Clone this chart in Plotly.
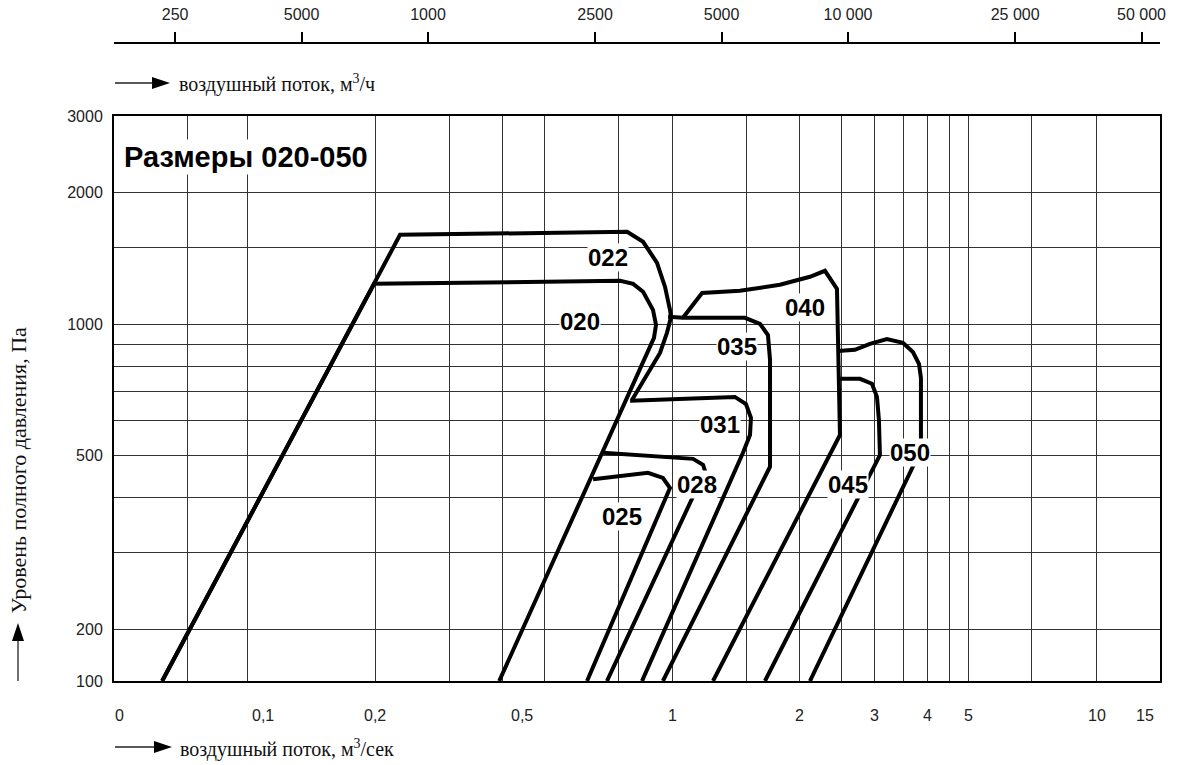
import numpy as np
import plotly.graph_objects as go

# ---------------- data (flow m3/s, total pressure Pa) -------------
flow_020 = [0.0631, 0.199, 0.755, 0.810, 0.855, 0.902, 0.917, 0.907, 0.392]
pres_020 = [100, 1237, 1257, 1237, 1186, 1078, 996, 930, 100]

flow_022 = [0.0631, 0.229, 0.784, 0.855, 0.922, 0.963, 0.989, 0.995, 0.973, 0.937, 0.805]
pres_022 = [100, 1602, 1628, 1544, 1382, 1217, 1078, 1039, 955, 859, 670]

flow_025 = [0.652, 0.878, 0.952, 0.989, 0.631]
pres_025 = [441, 456, 444, 421, 100]

flow_028 = [0.688, 0.888, 1.121, 1.183, 1.196, 0.703]
pres_028 = [507, 499, 491, 476, 461, 100]

flow_031 = [0.797, 1.164, 1.406, 1.493, 1.534, 1.526, 1.469, 0.850]
pres_031 = [667, 677, 681, 656, 610, 557, 507, 100]

flow_035 = [0.979, 1.061, 1.485, 1.611, 1.682, 1.701, 1.701, 0.952]
pres_035 = [1039, 1034, 1034, 1001, 944, 828, 471, 100]

flow_040 = [1.061, 1.177, 1.445, 1.795, 2.112, 2.291, 2.445, 2.485, 1.249]
pres_040 = [1034, 1179, 1192, 1231, 1284, 1325, 1205, 557, 100]

flow_045 = [2.459, 2.770, 2.955, 3.037, 3.069, 3.086, 1.655]
pres_045 = [749, 749, 730, 681, 603, 501, 100]

flow_050 = [2.459, 2.695, 2.923, 3.205, 3.496, 3.690, 3.813, 3.854, 3.854, 2.112]
pres_050 = [868, 873, 901, 924, 906, 863, 811, 753, 515, 100]

size_labels = ["020", "022", "025", "028", "031", "035", "040", "045", "050"]
label_flow = [0.607, 0.707, 0.763, 1.145, 1.297, 1.422, 2.055, 2.595, 3.631]
label_pres = [1012, 1419, 363, 430, 590, 887, 1089, 430, 507]

# axis grid / tick labels (label anchors as printed on the original scale)
x_grid = [0.0722, 0.1, 0.2, 0.3, 0.4, 0.5, 0.75, 1, 1.5, 2, 2.5, 3, 3.5, 4, 4.5, 5, 7, 10]
x_label_at = [0.0502, 0.109, 0.2, 0.444, 1, 2, 3, 4, 5, 10, 12.97]
x_label_text = ["0", "0,1", "0,2", "0,5", "1", "2", "3", "4", "5", "10", "15"]
y_grid = [100, 200, 300, 400, 500, 600, 700, 800, 900, 1000, 1500, 2000, 3000]
y_tick_vals = [100, 200, 500, 1000, 2000, 3000]
top_tick_vals = [250, 500, 1000, 2500, 5000, 10000, 25000, 50000]
top_tick_text = ["250", "5000", "1000", "2500", "5000", "10 000", "25 000", "50 000"]

# ---------------- scales ----------------
X_MIN, X_MAX = 0.0486, 14.08
COMP = 0.396  # compression of the 100-200 Pa band


def ty(p):
    p = np.asarray(p, dtype=float)
    l = np.log10(p)
    base = np.log10(200.0)
    return np.where(p >= 200, l, base - (base - l) * COMP)


W, H = 1178, 765
ML, MR, MT, MB = 114, 18, 43, 84
PW, PH = W - ML - MR, H - MT - MB
Y_DOMAIN_TOP = (681 - 116) / PH


def px(xp):
    return (xp - ML) / PW


def py(yp):
    return (H - MB - yp) / PH


fig = go.Figure()
curves = [
    (flow_020, pres_020), (flow_022, pres_022), (flow_025, pres_025),
    (flow_028, pres_028), (flow_031, pres_031), (flow_035, pres_035),
    (flow_040, pres_040), (flow_045, pres_045), (flow_050, pres_050),
]
for name, (fx, fp) in zip(size_labels, curves):
    fig.add_trace(go.Scatter(
        x=fx, y=ty(fp), mode="lines", name=name,
        line=dict(color="black", width=4), hoverinfo="skip",
        showlegend=False))

# invisible trace to activate the top axis
fig.add_trace(go.Scatter(x=[1000], y=[float(ty(1000))], xaxis="x2", yaxis="y",
                         mode="markers", marker=dict(opacity=0),
                         hoverinfo="skip", showlegend=False))

GRID = "#333333"
TICKFONT = dict(family="Liberation Sans, Arial, sans-serif", size=16, color="#222")

y_minor = [v for v in y_grid if v not in y_tick_vals]

fig.update_layout(
    width=W, height=H,
    margin=dict(l=ML, r=MR, t=MT, b=MB, pad=0, autoexpand=False),
    plot_bgcolor="white", paper_bgcolor="white",
    showlegend=False,
    xaxis=dict(
        type="log", range=[np.log10(X_MIN), np.log10(X_MAX)],
        tickmode="array", tickvals=x_grid, showticklabels=False,
        showgrid=True, gridcolor=GRID, gridwidth=1,
        showline=True, linecolor="black", linewidth=2, mirror=True,
        ticks="", zeroline=False, automargin=False,
    ),
    yaxis=dict(
        domain=[0, Y_DOMAIN_TOP],
        range=[float(ty(100)), float(ty(3000))],
        tickmode="array", tickvals=[float(v) for v in ty(y_tick_vals)],
        ticktext=[str(v) for v in y_tick_vals],
        showgrid=True, gridcolor=GRID, gridwidth=1,
        minor=dict(tickmode="array", tickvals=[float(v) for v in ty(y_minor)],
                   showgrid=True, gridcolor=GRID, gridwidth=1, ticks=""),
        showline=True, linecolor="black", linewidth=2, mirror=True,
        ticks="", tickfont=TICKFONT, ticklabelstandoff=6, zeroline=False,
        automargin=False,
    ),
    xaxis2=dict(
        type="log", range=[2.2524, 4.7429],
        overlaying="x", side="top", anchor="free", position=1,
        tickmode="array", tickvals=top_tick_vals, ticktext=top_tick_text,
        ticks="outside", ticklen=10, tickwidth=2, tickcolor="black",
        showline=True, linecolor="black", linewidth=2,
        showgrid=False, zeroline=False, tickfont=TICKFONT,
        ticklabelstandoff=6, automargin=False,
    ),
)

ann = []
for t, v in zip(x_label_text, x_label_at):
    ann.append(dict(x=np.log10(v), y=py(716), xref="x", yref="paper",
                    text=t, showarrow=False, font=TICKFONT,
                    xanchor="center", yanchor="middle"))

LABEL_FONT = dict(family="Liberation Sans, Arial, sans-serif", size=24, color="black")
for t, fxv, fpv in zip(size_labels, label_flow, label_pres):
    ann.append(dict(x=np.log10(fxv), y=float(ty(fpv)), xref="x", yref="y",
                    text="<b>%s</b>" % t, showarrow=False, font=LABEL_FONT,
                    bgcolor="white", borderpad=0, xanchor="center", yanchor="middle"))

ann.append(dict(x=px(122), y=py(157), xref="paper", yref="paper",
                text="<b>Размеры 020-050</b>", showarrow=False,
                font=dict(family="Liberation Sans, Arial, sans-serif", size=29, color="black"),
                bgcolor="white", borderpad=1, xanchor="left", yanchor="middle"))

SERIF = dict(family="Liberation Serif, Times New Roman, serif", size=20, color="#111")
SERIF_V = dict(family="Liberation Serif, Times New Roman, serif", size=22, color="#111")
ann.append(dict(x=px(177), y=py(84), xref="paper", yref="paper",
                text="воздушный поток, м<sup>3</sup>/ч", showarrow=False, font=SERIF,
                xanchor="left", yanchor="middle"))
ann.append(dict(x=px(178), y=py(748), xref="paper", yref="paper",
                text="воздушный поток, м<sup>3</sup>/сек", showarrow=False, font=SERIF,
                xanchor="left", yanchor="middle"))
ann.append(dict(x=px(18), y=py(616), xref="paper", yref="paper",
                text="Уровень полного давления, Па", showarrow=False, font=SERIF_V,
                textangle=-90, xanchor="center", yanchor="bottom"))
fig.update_layout(annotations=ann)

shapes = []
for (x0, x1, xh, yy) in [(115, 153, 170, 83), (115, 155, 172, 747)]:
    shapes.append(dict(type="line", xref="paper", yref="paper",
                       x0=px(x0), x1=px(x1), y0=py(yy), y1=py(yy),
                       line=dict(color="#222", width=1.3)))
    shapes.append(dict(type="path", xref="paper", yref="paper",
                       path="M %f %f L %f %f L %f %f Z" % (px(x1 - 1), py(yy - 6), px(xh), py(yy), px(x1 - 1), py(yy + 6)),
                       fillcolor="black", line=dict(color="black", width=0)))
shapes.append(dict(type="line", xref="paper", yref="paper",
                   x0=px(18), x1=px(18), y0=py(681), y1=py(640),
                   line=dict(color="#222", width=1.3)))
shapes.append(dict(type="path", xref="paper", yref="paper",
                   path="M %f %f L %f %f L %f %f Z" % (px(12), py(641), px(18), py(623), px(24), py(641)),
                   fillcolor="black", line=dict(color="black", width=0)))
fig.update_layout(shapes=shapes)

fig.write_html("out.html", config={"displayModeBar": False},
               post_script="document.body.style.margin='0px';document.body.style.padding='0px';")
